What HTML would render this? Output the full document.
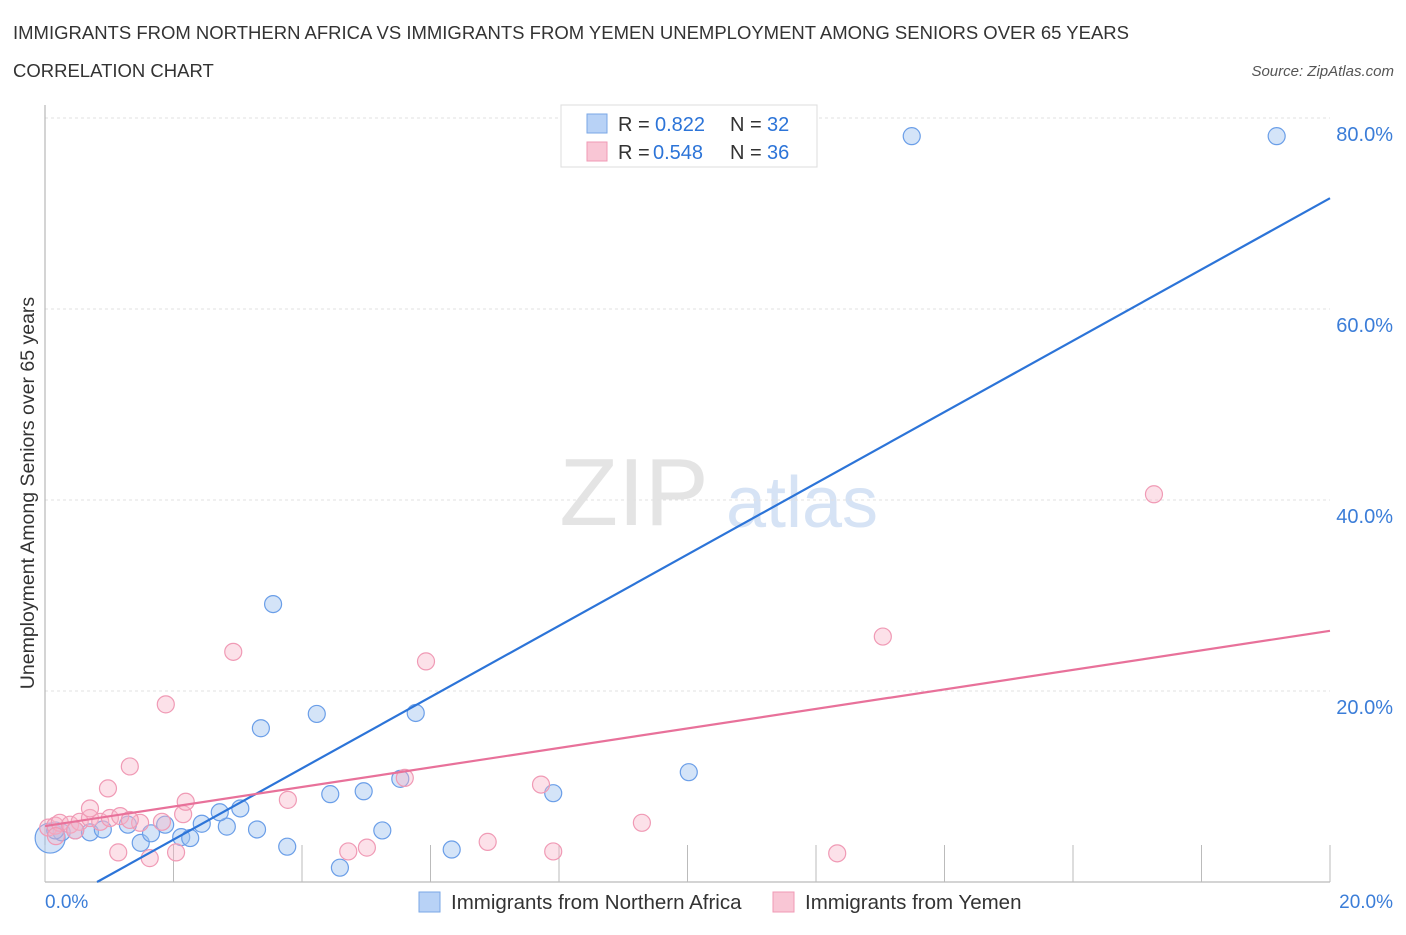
<!DOCTYPE html>
<html><head><meta charset="utf-8"><style>
body{margin:0;background:#fff;font-family:"Liberation Sans",sans-serif;}
svg text{font-family:"Liberation Sans",sans-serif;}
</style></head><body>
<svg id="chart" width="1406" height="930" viewBox="0 0 1406 930" xmlns="http://www.w3.org/2000/svg">
<text x="13" y="39" font-size="18.5" fill="#333">IMMIGRANTS FROM NORTHERN AFRICA VS IMMIGRANTS FROM YEMEN UNEMPLOYMENT AMONG SENIORS OVER 65 YEARS</text>
<text x="13" y="77" font-size="18.5" fill="#333">CORRELATION CHART</text>
<text x="1394" y="76" font-size="15" fill="#555" text-anchor="end" font-style="italic">Source: ZipAtlas.com</text>
<g>
<text x="634" y="525" font-size="96" fill="#e4e4e4" text-anchor="middle" font-family="Liberation Serif, serif">ZIP</text>
<text x="802" y="527" font-size="72" fill="#d6e3f5" text-anchor="middle">atlas</text>
</g>
<g id="grid"></g>
<g id="axes"></g>
<g id="marks"></g>
<text transform="translate(34,493) rotate(-90)" font-size="19.5" fill="#333" text-anchor="middle">Unemployment Among Seniors over 65 years</text>
<g>
<rect x="561" y="105" width="256" height="62" fill="#fff" stroke="#ddd"/>
<rect x="587" y="114" width="20" height="19" fill="#b8d2f6" stroke="#7aa7e6"/>
<rect x="587" y="142" width="20" height="19" fill="#f9c6d5" stroke="#f09ab5"/>
<text x="618" y="131" font-size="20" fill="#333">R =</text>
<text x="655" y="131" font-size="20" fill="#2c74d8">0.822</text>
<text x="730" y="131" font-size="20" fill="#333">N =</text>
<text x="767" y="131" font-size="20" fill="#2c74d8">32</text>
<text x="618" y="159" font-size="20" fill="#333">R =</text>
<text x="653" y="159" font-size="20" fill="#2c74d8">0.548</text>
<text x="730" y="159" font-size="20" fill="#333">N =</text>
<text x="767" y="159" font-size="20" fill="#2c74d8">36</text>
</g>
<g>
<rect x="419" y="892" width="21" height="20" fill="#b8d2f6" stroke="#7aa7e6"/>
<text x="451" y="909" font-size="20.5" fill="#333">Immigrants from Northern Africa</text>
<rect x="773" y="892" width="21" height="20" fill="#f9c6d5" stroke="#f09ab5"/>
<text x="805" y="909" font-size="20.5" fill="#333">Immigrants from Yemen</text>
</g>
</svg>
<script>
const yTicks=[20,40,60,80];
const yTickLabels=["20.0%","40.0%","60.0%","80.0%"];
const xTicks=[0,2,4,6,8,10,12,14,16,18,20];
const blueX=[0.08,0.26,0.47,0.70,0.90,1.29,1.49,1.65,1.87,2.12,2.26,2.44,2.83,3.04,2.72,3.30,3.55,3.36,3.77,4.23,4.44,4.96,5.25,5.53,5.77,6.33,4.59,7.91,10.02,13.49,19.17,0.16];
const blueY=[4.6,5.2,5.4,5.2,5.5,6.0,4.1,5.1,6.0,4.7,4.6,6.1,5.8,7.7,7.3,5.5,29.1,16.1,3.7,17.6,9.2,9.5,5.4,10.8,17.7,3.4,1.5,9.3,11.5,78.1,78.1,5.4];
const pinkX=[0.05,0.16,0.23,0.39,0.54,0.70,0.86,1.01,1.14,1.32,0.98,1.48,1.63,1.82,1.88,2.04,2.15,2.19,2.93,3.78,4.72,5.01,5.60,5.93,6.89,7.72,7.91,9.29,12.33,13.04,17.26,0.70,0.17,1.17,1.32,0.47];
const pinkY=[5.7,5.9,6.2,6.0,6.3,6.7,6.3,6.7,3.1,12.1,9.8,6.2,2.5,6.3,18.6,3.1,7.1,8.4,24.1,8.6,3.2,3.6,10.9,23.1,4.2,10.2,3.2,6.2,3.0,25.7,40.6,7.7,4.8,6.9,6.5,5.4];
const blueTrend=[0.81,0,20,71.6];
const pinkTrend=[0,5.86,20,26.3];
const NS="http://www.w3.org/2000/svg";
const xs=v=>45+v*64.25, ys=v=>882-v*9.55;
function mk(tag,attrs,parent){const e=document.createElementNS(NS,tag);for(const k in attrs)e.setAttribute(k,attrs[k]);document.getElementById(parent).appendChild(e);return e;}
yTicks.forEach((t,i)=>{
 const g=mk('line',{x1:45,x2:1330,y1:ys(t),y2:ys(t),stroke:'#e2e2e2','stroke-dasharray':'3,3'},'grid');
 
 
 const l=mk('text',{x:1393,y:ys(t)+23,'font-size':20,fill:'#3b7dd8','text-anchor':'end'},'axes');
 l.textContent=yTickLabels[i];
 
 
});
const ax=mk('line',{x1:45,x2:45,y1:105,y2:882,stroke:'#aaa'},'axes');


const bx=mk('line',{x1:45,x2:1330,y1:882,y2:882,stroke:'#aaa'},'axes');


xTicks.forEach(t=>{
 const tk=mk('line',{x1:xs(t),x2:xs(t),y1:845,y2:882,stroke:'#bbb'},'axes');
 
 
});
const xl0=mk('text',{x:45,y:908,'font-size':19,fill:'#3b7dd8'},'axes');xl0.textContent="0.0%";


const xl1=mk('text',{x:1393,y:908,'font-size':19,fill:'#3b7dd8','text-anchor':'end'},'axes');xl1.textContent="20.0%";


blueX.forEach((v,i)=>{
 const c=mk('circle',{cx:xs(v),cy:ys(blueY[i]),r:i===0?15:8.5,fill:'rgba(160,196,240,0.45)',stroke:'#6a9ee8','stroke-width':1.2},'marks');
 
 
});
pinkX.forEach((v,i)=>{
 const c=mk('circle',{cx:xs(v),cy:ys(pinkY[i]),r:8.5,fill:'rgba(248,180,200,0.4)',stroke:'#f09ab5','stroke-width':1.2},'marks');
 
 
});
const bl=mk('line',{x1:xs(blueTrend[0]),y1:ys(blueTrend[1]),x2:xs(blueTrend[2]),y2:ys(blueTrend[3]),stroke:'#2c74d8','stroke-width':2.2},'marks');


const pl=mk('line',{x1:xs(pinkTrend[0]),y1:ys(pinkTrend[1]),x2:xs(pinkTrend[2]),y2:ys(pinkTrend[3]),stroke:'#e8719a','stroke-width':2.2},'marks');


</script>
</body></html>
